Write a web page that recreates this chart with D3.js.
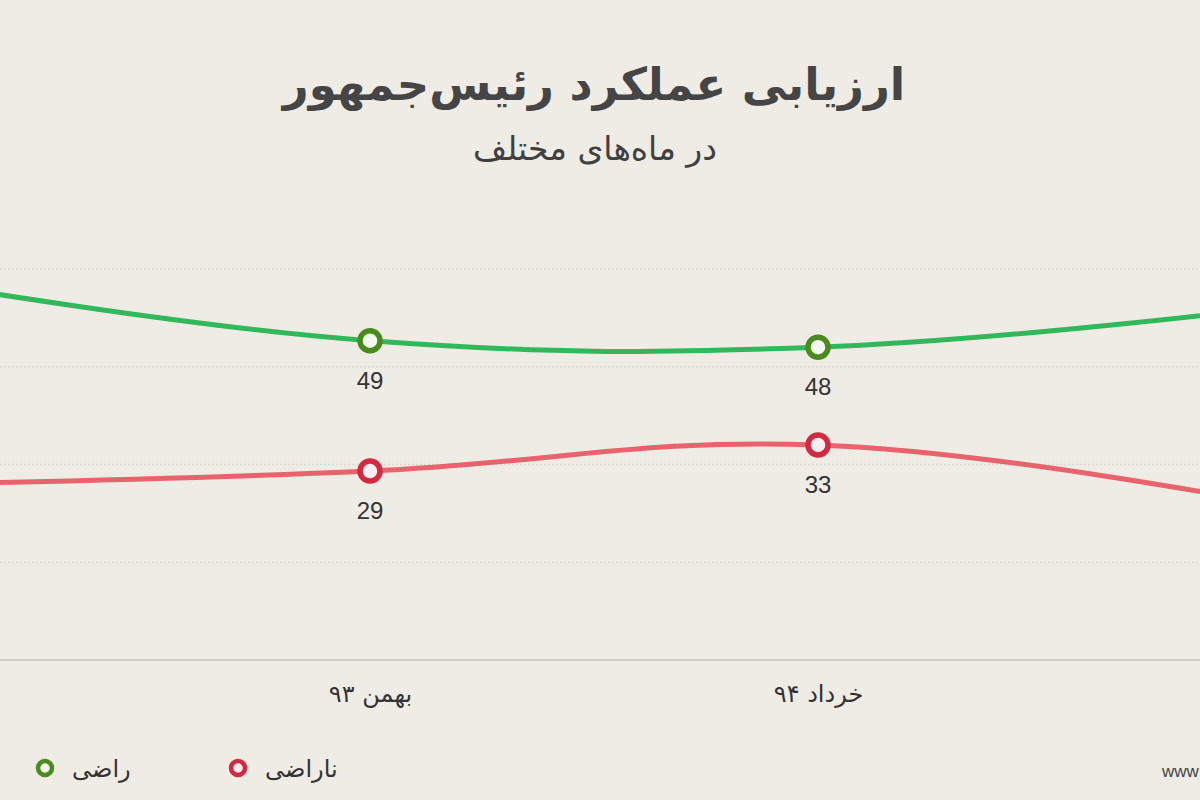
<!DOCTYPE html>
<html lang="fa">
<head>
<meta charset="utf-8">
<script src="https://cdnjs.cloudflare.com/ajax/libs/d3/7.8.5/d3.min.js"></script>
<style>
  body { margin: 0; background: #efece6; }
  svg { display: block; font-family: "DejaVu Sans", sans-serif; }
</style>
</head>
<body>
<script>
// months (first and last sit just outside the visible area)
const months = ["مهر ۹۳", "بهمن ۹۳", "خرداد ۹۴", "مهر ۹۴"];
const satisfied = [58, 49, 48, 54];
const dissatisfied = [27, 29, 33, 24];
const gridValues = [0, 15, 30, 45, 60];
const visibleMonths = ["بهمن ۹۳", "خرداد ۹۴"];

const w = 1200;
const h = 800;

const svg = d3.select("body")
  .append("svg")
  .attr("width", w)
  .attr("height", h);

svg.append("rect").attr("width", w).attr("height", h).attr("fill", "#efece6");

svg.append("text")
  .attr("x", 594).attr("y", 100)
  .attr("text-anchor", "middle")
  .attr("direction", "rtl")
  .attr("font-size", 45)
  .attr("font-weight", "bold")
  .attr("fill", "#454545")
  .text("ارزیابی عملکرد رئیس‌جمهور");

svg.append("text")
  .attr("x", 595).attr("y", 160)
  .attr("text-anchor", "middle")
  .attr("direction", "rtl")
  .attr("font-size", 33)
  .attr("fill", "#404040")
  .text("در ماه‌های مختلف");

const xScale = d3.scalePoint()
  .domain(months)
  .range([-78, 1266]);

const yScale = d3.scaleLinear()
  .domain([0, 60])
  .range([660, 269]);

// grid
const grid = svg.append("g");
grid.selectAll("line")
  .data(gridValues)
  .enter().append("line")
  .attr("x1", 0).attr("x2", w)
  .attr("y1", d => yScale(d)).attr("y2", d => yScale(d))
  .attr("stroke", d => d === 0 ? "#d2cfc8" : "#dcd9d2")
  .attr("stroke-width", d => d === 0 ? 2 : 1.5)
  .attr("stroke-dasharray", d => d === 0 ? null : "2,2");

// x axis labels
const xAxis = d3.axisBottom(xScale).tickSize(0).tickPadding(0)
  .tickValues(visibleMonths);
const gx = svg.append("g")
  .attr("transform", "translate(0,702)")
  .call(xAxis);
gx.select(".domain").remove();
gx.selectAll("text")
  .attr("dy", 0)
  .attr("direction", "rtl")
  .attr("font-size", 24)
  .attr("font-family", "DejaVu Sans, sans-serif")
  .attr("fill", "#333");

const series = [
  { name: "راضی", values: satisfied, line: "#31b85a", marker: "#4a8a1f", fill: "#f4f7ee", labelDy: 48 },
  { name: "ناراضی", values: dissatisfied, line: "#e8636c", marker: "#d42a41", fill: "#fbeef0", labelDy: 48 }
];

const line = d3.line()
  .x((d, i) => xScale(months[i]))
  .y(d => yScale(d))
  .curve(d3.curveCardinal.tension(-0.2));

series.forEach(s => {
  svg.append("path")
    .attr("d", line(s.values))
    .attr("fill", "none")
    .attr("stroke", s.line)
    .attr("stroke-width", 5)
    .attr("stroke-linecap", "round");

  const pts = s.values.map((v, i) => ({ m: months[i], v: v }))
    .filter(p => visibleMonths.includes(p.m));

  svg.selectAll(null)
    .data(pts)
    .enter().append("circle")
    .attr("cx", d => xScale(d.m))
    .attr("cy", d => yScale(d.v))
    .attr("r", 10)
    .attr("fill", s.fill)
    .attr("stroke", s.marker)
    .attr("stroke-width", 5.5);

  svg.selectAll(null)
    .data(pts)
    .enter().append("text")
    .attr("x", d => xScale(d.m))
    .attr("y", d => yScale(d.v) + s.labelDy)
    .attr("text-anchor", "middle")
    .attr("font-size", 24)
    .attr("font-family", "Liberation Sans, Arial, sans-serif")
    .attr("fill", "#333")
    .text(d => d.v);
});

// legend
const legend = svg.append("g").attr("transform", "translate(0,768)");
const legendX = [45, 238];
series.forEach((s, i) => {
  legend.append("circle")
    .attr("cx", legendX[i]).attr("cy", 0)
    .attr("r", 7)
    .attr("fill", s.fill)
    .attr("stroke", s.marker)
    .attr("stroke-width", 4.5);
  legend.append("text")
    .attr("x", legendX[i] + 27).attr("y", 9)
    .attr("text-anchor", "start")
    .attr("font-size", 24)
    .attr("fill", "#333")
    .text(s.name);
});

svg.append("text")
  .attr("x", 1162).attr("y", 777)
  .attr("font-size", 17)
  .attr("font-family", "Liberation Sans, Arial, sans-serif")
  .attr("fill", "#444")
  .text("www");
</script>
</body>
</html>
